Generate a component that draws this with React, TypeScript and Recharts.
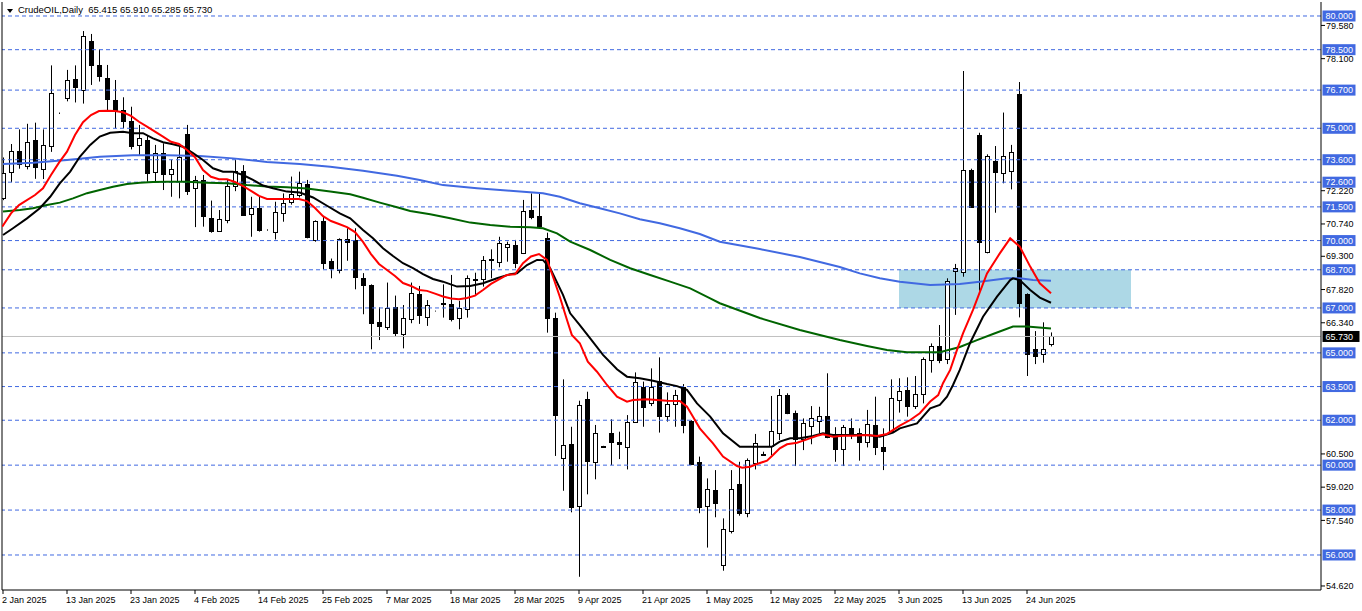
import React from 'react';
import { ComposedChart, Bar, Line, XAxis, YAxis, ReferenceLine, ReferenceArea } from 'recharts';

const FONT = '"Liberation Sans", Arial, sans-serif';

const dateTicks = [0, 8, 16, 24, 32, 40, 48, 56, 64, 72, 80, 88, 96, 104, 112, 120, 128];
const dateLabels = ['2 Jan 2025', '13 Jan 2025', '23 Jan 2025', '4 Feb 2025', '14 Feb 2025', '25 Feb 2025', '7 Mar 2025', '18 Mar 2025', '28 Mar 2025', '9 Apr 2025', '21 Apr 2025', '1 May 2025', '12 May 2025', '22 May 2025', '3 Jun 2025', '13 Jun 2025', '24 Jun 2025'];

const opens = [71.90, 73.04, 74.00, 73.30, 74.50, 73.20, 74.20, 75.66, 76.36, 77.19, 76.70, 78.90, 77.80, 77.22, 76.26, 75.80, 75.32, 74.26, 74.48, 73.07, 73.88, 72.95, 72.65, 74.73, 72.33, 72.70, 70.99, 70.44, 70.92, 72.43, 73.11, 71.17, 71.46, 70.46, 70.37, 71.21, 71.70, 72.03, 72.50, 70.03, 70.87, 69.09, 68.69, 70.07, 70.03, 68.35, 68.00, 66.37, 66.17, 67.03, 65.83, 66.49, 67.62, 66.61, 66.85, 67.18, 67.18, 66.54, 66.94, 68.25, 68.27, 69.12, 69.06, 69.73, 69.80, 69.46, 71.36, 71.09, 70.10, 66.57, 60.33, 60.94, 58.19, 62.95, 60.15, 60.82, 61.42, 61.02, 60.83, 61.91, 63.49, 62.75, 63.75, 62.20, 62.72, 63.47, 61.98, 60.15, 58.20, 58.89, 55.54, 57.08, 59.16, 57.86, 60.10, 60.47, 60.85, 61.42, 63.11, 62.31, 61.16, 61.76, 61.98, 62.19, 61.27, 60.71, 61.64, 61.45, 61.05, 61.79, 60.79, 61.52, 62.90, 63.35, 62.65, 63.16, 64.68, 65.30, 64.71, 68.65, 68.61, 73.14, 74.70, 69.49, 73.56, 73.00, 73.10, 76.53, 67.60, 65.16, 64.93, 65.415];
const highs = [73.70, 74.30, 74.95, 75.20, 75.25, 74.95, 77.80, 75.70, 77.60, 77.80, 79.33, 79.20, 78.52, 77.82, 77.15, 76.38, 75.96, 75.15, 74.70, 74.26, 74.33, 73.60, 74.18, 75.15, 72.88, 72.92, 71.78, 71.36, 72.70, 73.60, 73.36, 71.95, 71.95, 70.50, 71.73, 72.10, 72.85, 73.07, 72.70, 70.90, 71.06, 69.20, 70.10, 70.55, 70.55, 68.55, 68.05, 67.03, 68.13, 67.55, 67.13, 68.13, 67.98, 67.35, 66.88, 68.05, 68.47, 67.32, 68.45, 68.57, 69.31, 69.61, 70.17, 69.95, 70.03, 71.81, 72.10, 72.10, 70.35, 66.79, 63.82, 61.71, 62.87, 63.27, 61.79, 60.86, 62.04, 61.49, 62.23, 64.13, 63.72, 64.31, 64.80, 63.24, 63.35, 63.61, 62.00, 60.38, 59.41, 59.78, 57.63, 59.78, 60.15, 60.30, 61.39, 60.60, 63.08, 63.39, 63.20, 62.43, 62.08, 62.63, 62.60, 64.09, 61.69, 61.79, 62.08, 61.64, 62.46, 63.05, 61.64, 63.82, 63.87, 63.91, 63.97, 64.80, 65.42, 66.24, 68.32, 68.96, 77.55, 73.20, 74.80, 73.84, 74.21, 75.70, 74.26, 77.06, 67.65, 65.97, 66.36, 65.91];
const lows = [71.80, 72.60, 73.20, 73.17, 72.75, 72.74, 73.95, 75.64, 76.20, 76.15, 76.10, 76.93, 77.08, 75.81, 75.00, 75.00, 74.06, 73.80, 72.62, 72.60, 72.25, 71.95, 71.88, 72.03, 70.60, 70.62, 70.35, 70.40, 70.77, 72.20, 71.10, 70.17, 70.40, 70.44, 70.05, 70.84, 71.60, 71.92, 70.10, 69.95, 68.72, 68.32, 68.54, 69.10, 67.83, 66.72, 65.16, 65.57, 66.02, 65.72, 65.20, 66.32, 66.29, 66.20, 66.84, 66.57, 66.40, 66.05, 66.57, 67.58, 67.95, 68.32, 68.81, 69.06, 68.77, 69.40, 70.95, 70.60, 65.90, 60.41, 58.86, 57.90, 55.03, 58.70, 59.37, 60.80, 60.00, 60.27, 59.81, 61.90, 61.71, 62.63, 61.45, 61.94, 61.71, 61.42, 60.00, 57.86, 56.33, 57.68, 55.30, 56.96, 57.75, 57.68, 59.81, 60.45, 60.45, 61.12, 62.27, 59.96, 60.67, 60.93, 61.42, 61.20, 60.15, 59.96, 61.16, 60.20, 60.79, 60.45, 59.78, 61.50, 62.34, 62.16, 62.50, 62.75, 64.12, 64.54, 64.50, 66.69, 68.39, 71.45, 67.77, 69.43, 71.24, 72.55, 72.28, 66.58, 63.97, 64.50, 64.56, 65.285];
const closes = [73.00, 74.00, 73.40, 74.38, 73.28, 74.26, 76.56, 75.68, 77.14, 76.85, 79.10, 77.82, 77.31, 76.29, 75.81, 75.34, 74.23, 74.55, 73.02, 73.88, 72.95, 73.17, 73.74, 72.22, 72.70, 71.11, 70.44, 70.95, 72.43, 73.11, 71.14, 71.46, 70.47, 70.48, 71.29, 71.69, 72.06, 72.55, 70.15, 70.87, 69.00, 68.77, 70.06, 69.92, 68.39, 68.00, 66.32, 66.21, 66.98, 65.87, 66.54, 67.65, 66.70, 67.12, 66.87, 67.22, 66.50, 66.98, 68.32, 68.30, 69.14, 69.16, 69.88, 69.83, 69.00, 71.32, 71.06, 70.66, 66.54, 62.23, 60.90, 58.15, 62.68, 60.20, 61.42, 60.84, 61.02, 60.93, 61.91, 63.69, 62.60, 63.47, 62.20, 62.71, 63.12, 61.79, 60.05, 58.15, 58.92, 58.33, 57.14, 58.96, 57.88, 60.22, 60.97, 60.49, 61.52, 63.12, 62.34, 61.16, 61.86, 62.08, 62.19, 61.27, 60.72, 61.69, 61.45, 61.02, 61.82, 60.83, 60.64, 62.97, 63.30, 62.65, 63.16, 64.71, 65.31, 64.68, 68.21, 68.77, 73.14, 71.48, 69.95, 73.77, 73.04, 73.78, 73.93, 67.21, 64.93, 64.88, 65.16, 65.73];

// moving averages: [bar index, price]
const redMA = [[-0.1, 70.62], [1, 71.21], [2, 71.58], [4, 72.03], [5, 72.33], [6, 72.92], [7, 73.47], [8, 73.96], [9, 74.70], [10, 75.27], [11, 75.59], [12, 75.77], [13, 75.78], [14, 75.77], [15, 75.71], [16, 75.55], [17, 75.29], [18, 75.07], [19, 74.85], [20, 74.63], [21, 74.40], [22, 74.30], [23, 74.03], [24, 73.71], [25, 73.14], [26, 72.84], [27, 72.73], [28, 72.73], [29, 72.61], [30, 72.43], [31, 72.21], [32, 71.99], [33, 71.85], [35, 71.85], [37, 71.85], [38, 71.76], [39, 71.45], [40, 71.09], [41, 70.87], [42, 70.74], [43, 70.60], [44, 70.38], [45, 69.94], [46, 69.40], [47, 68.96], [48, 68.69], [49, 68.42], [50, 68.11], [51, 67.98], [52, 67.80], [53, 67.76], [54, 67.64], [55, 67.51], [56, 67.42], [57, 67.39], [58, 67.44], [59, 67.55], [60, 67.80], [61, 68.07], [62, 68.27], [63, 68.47], [64, 68.50], [65, 68.99], [66, 69.29], [67, 69.40], [68, 69.14], [68.75, 68.39], [69.6, 67.50], [70.5, 66.46], [71.1, 65.80], [72.1, 65.43], [73.1, 64.61], [74.25, 64.16], [75.5, 63.57], [76.75, 63.05], [78, 62.83], [78.75, 62.90], [80.5, 62.93], [81.75, 62.90], [83, 62.87], [84.6, 62.86], [85.5, 62.60], [86.25, 62.16], [87.1, 61.64], [88, 61.27], [88.75, 60.97], [90, 60.38], [91.75, 59.96], [92.4, 59.89], [93.4, 59.93], [94.25, 60.05], [95.5, 60.20], [96.25, 60.45], [97.1, 60.75], [98, 60.93], [99.25, 61.00], [100.5, 61.15], [101.75, 61.31], [102.5, 61.37], [103.75, 61.27], [105, 61.31], [106.25, 61.31], [108, 61.34], [109.25, 61.30], [110.5, 61.39], [112.1, 61.76], [113.4, 62.01], [114.6, 62.31], [115.9, 62.83], [116.9, 63.12], [117.5, 63.65], [118.4, 64.24], [119.25, 65.13], [120, 65.87], [121.25, 66.91], [123, 68.54], [124.6, 69.43], [125.9, 70.10], [127.1, 69.73], [128.4, 68.84], [129.6, 68.10], [131, 67.65]];
const blackMA = [[0, 70.25], [1.25, 70.55], [3, 70.99], [4.6, 71.44], [5.9, 71.95], [7.1, 72.55], [8.4, 73.07], [9.6, 73.73], [10.9, 74.26], [12.1, 74.63], [13.4, 74.80], [15, 74.85], [16.25, 74.78], [17.5, 74.78], [18.75, 74.55], [20, 74.38], [21.25, 74.29], [22.5, 74.18], [23.75, 73.89], [25, 73.59], [26.25, 73.22], [27.5, 73.07], [28.75, 73.07], [30, 72.92], [31.25, 72.70], [32.5, 72.45], [33.75, 72.33], [35.5, 72.18], [37.1, 72.14], [38.75, 71.92], [40.5, 71.55], [42.1, 71.21], [43.4, 70.99], [45, 70.47], [46.25, 70.10], [47.5, 69.66], [48.75, 69.31], [50, 68.99], [51.25, 68.77], [52.5, 68.51], [53.75, 68.29], [55, 68.17], [56.75, 67.95], [58.4, 67.98], [60, 68.10], [61.75, 68.32], [63.4, 68.50], [64.25, 68.54], [65.5, 68.91], [66.75, 69.14], [67.5, 69.13], [68.4, 68.77], [70, 67.58], [70.9, 66.76], [72.1, 66.24], [73.4, 65.65], [75, 64.91], [76.75, 64.27], [78, 63.94], [79.6, 63.87], [81.25, 63.76], [83, 63.61], [84.25, 63.52], [85.5, 63.35], [86.75, 62.75], [88.4, 62.16], [90, 61.42], [92.1, 60.82], [96.1, 60.82], [97.1, 61.05], [98.4, 61.20], [99.6, 61.20], [101.25, 61.30], [102.5, 61.42], [103.75, 61.34], [108, 61.34], [109.6, 61.27], [111.25, 61.45], [112.1, 61.64], [114.25, 61.86], [115.9, 62.53], [117.1, 62.68], [118, 63.05], [118.75, 63.57], [119.6, 64.24], [120.9, 65.45], [122.5, 66.61], [124.25, 67.50], [125.9, 68.24], [126.25, 68.32], [127.1, 68.24], [128.4, 67.80], [129.6, 67.46], [131, 67.23]];
const greenMA = [[0, 71.29], [2.1, 71.36], [3.75, 71.44], [5.5, 71.58], [7.1, 71.69], [8.75, 71.88], [10.5, 72.11], [12.1, 72.25], [13.75, 72.40], [15.5, 72.52], [17.1, 72.58], [18.75, 72.61], [20.5, 72.62], [23, 72.62], [25.5, 72.58], [28, 72.55], [30.5, 72.47], [33, 72.41], [35.5, 72.37], [38, 72.32], [40.9, 72.18], [43.4, 72.06], [45, 71.91], [47.1, 71.69], [49.25, 71.48], [50.9, 71.32], [53.4, 71.17], [55.9, 70.99], [58.4, 70.80], [60.9, 70.69], [63.4, 70.62], [65.9, 70.59], [67.5, 70.55], [69.25, 70.32], [70.9, 69.95], [73.4, 69.58], [75.9, 69.14], [78.4, 68.77], [80.9, 68.47], [83.4, 68.17], [85.9, 67.87], [88.4, 67.43], [89.6, 67.21], [94.6, 66.55], [99.6, 66.02], [104.6, 65.57], [108, 65.31], [110.5, 65.13], [113, 65.03], [117.1, 65.03], [119.6, 65.26], [121.75, 65.57], [123.75, 65.84], [126.25, 66.17], [128, 66.17], [131, 66.09]];
const blueMA = [[0, 73.41], [3.75, 73.47], [8, 73.59], [12.1, 73.73], [16.25, 73.80], [20.5, 73.80], [24.6, 73.77], [28.75, 73.66], [33, 73.50], [37.1, 73.41], [40.9, 73.29], [45, 73.11], [49.25, 72.89], [52.1, 72.70], [55, 72.47], [59.25, 72.33], [63.4, 72.22], [67.5, 72.11], [69.6, 71.95], [72.1, 71.66], [74.6, 71.44], [77.1, 71.21], [79.6, 70.95], [82.1, 70.77], [84.6, 70.55], [87.1, 70.29], [89.6, 69.95], [94.6, 69.62], [99.6, 69.27], [104.6, 68.82], [107.1, 68.54], [109.6, 68.32], [112.1, 68.17], [115.9, 68.02], [119.6, 68.07], [122.1, 68.17], [125.5, 68.32], [127.1, 68.32], [128.75, 68.24], [131, 68.21]];

const levels = [80, 78.5, 76.7, 75, 73.6, 72.6, 71.5, 70, 68.7, 67, 65, 63.5, 62, 60, 58, 56];
const levelLabels = ['80.000', '78.500', '76.700', '75.000', '73.600', '72.600', '71.500', '70.000', '68.700', '67.000', '65.000', '63.500', '62.000', '60.000', '58.000', '56.000'];
const axisTicks = [79.58, 78.1, 72.22, 70.74, 69.3, 67.82, 66.34, 60.5, 59.02, 57.54, 54.62];
const axisTickLabels = ['79.580', '78.100', '72.220', '70.740', '69.300', '67.820', '66.340', '60.500', '59.020', '57.540', '54.620'];
const lastPrice = 65.73;
const lastPriceLabel = '65.730';
const zoneBars = [112, 141];
const zonePrices = [67, 68.7];
const headerText = 'CrudeOIL,Daily  65.415 65.910 65.285 65.730';

const xDomain = [-0.125, 164.75];
const yDomain = [54.441, 80.623];

const candles = opens.map((o, i) => ({ i, o, h: highs[i], l: lows[i], c: closes[i], range: [lows[i], highs[i]] }));
const toPts = (arr: number[][]) => arr.map(([i, v]) => ({ i, v }));

const Candle = (props: any) => {
  const { x, y, width, height, payload } = props;
  if (x == null || y == null) return null;
  const { o, h, l, c } = payload;
  const top = Math.min(y, y + height);
  const H = Math.abs(height);
  const k = h - l > 0 ? H / (h - l) : 0;
  const cx = Math.round(x + width / 2) + 0.5;
  const yO = top + (h - o) * k;
  const yC = top + (h - c) * k;
  const bTop = Math.round(Math.min(yO, yC)) + 0.5;
  const bBot = Math.round(Math.max(yO, yC)) + 0.5;
  const up = c >= o;
  return (
    <g>
      <line x1={cx} x2={cx} y1={top} y2={top + H} stroke="#000" strokeWidth={1} />
      <rect x={cx - 2} y={bTop} width={4} height={Math.max(bBot - bTop, 0)} fill={up ? '#fff' : '#000'} stroke="#000" strokeWidth={1} />
    </g>
  );
};

const DateTick = (props: any) => {
  const { x, y, payload } = props;
  const idx = dateTicks.indexOf(payload.value);
  return (
    <text x={x - 1} y={y} dy="0.71em" textAnchor="start" fontSize={9} fontFamily={FONT} fill="#000">
      {idx >= 0 ? dateLabels[idx] : ''}
    </text>
  );
};

const PriceTick = (props: any) => {
  const { x, y, payload } = props;
  const idx = axisTicks.indexOf(payload.value);
  return (
    <text x={x} y={y} dy="0.355em" textAnchor="start" fontSize={9} fontFamily={FONT} fill="#000">
      {idx >= 0 ? axisTickLabels[idx] : ''}
    </text>
  );
};

const boxLabel = (text: string, bg: string) => (p: any) => {
  const vb = p.viewBox || {};
  const bx = vb.x + vb.width + 1.5;
  const by = vb.y;
  return (
    <g>
      <rect x={bx} y={by - 5.5} width={bg === '#000' ? 37 : 33} height={11} fill={bg} />
      <text x={bx + 3} y={by} dy="0.355em" fontSize={9} fontFamily={FONT} fill="#fff">{text}</text>
    </g>
  );
};

export default function App() {
  return (
    <div style={{ position: 'absolute', left: 0, top: 0, width: 1362, height: 611, background: '#fff' }}>
      <ComposedChart width={1362} height={611} data={candles} margin={{ top: 2, right: 0, bottom: 0, left: 2 }}>
        <XAxis dataKey="i" type="number" domain={xDomain} allowDataOverflow ticks={dateTicks} interval={0} height={21} tickSize={4} tickMargin={3} axisLine={{ stroke: '#000' }} tickLine={{ stroke: '#000' }} tick={<DateTick />} />
        <YAxis orientation="right" type="number" domain={yDomain} allowDataOverflow ticks={axisTicks} interval={0} width={41} tickSize={4} tickMargin={1} axisLine={{ stroke: '#000' }} tickLine={{ stroke: '#000' }} tick={<PriceTick />} />
        <ReferenceArea x1={zoneBars[0]} x2={zoneBars[1]} y1={zonePrices[0]} y2={zonePrices[1]} fill="#ADD8E6" fillOpacity={1} stroke="none" ifOverflow="visible" />
        {levels.map((v, k) => (
          <ReferenceLine key={'lv' + k} y={v} stroke="#4169E1" strokeDasharray="4 3" strokeWidth={1} />
        ))}
        <ReferenceLine y={lastPrice} stroke="#C0C0C0" strokeWidth={1} />
        <ReferenceLine x={xDomain[0]} stroke="#000" strokeWidth={1} />
        <Line data={toPts(blueMA)} dataKey="v" stroke="#4169E1" strokeWidth={2} dot={false} isAnimationActive={false} type="linear" />
        <Line data={toPts(greenMA)} dataKey="v" stroke="#006400" strokeWidth={2} dot={false} isAnimationActive={false} type="linear" />
        <Bar dataKey="range" barSize={7} shape={<Candle />} isAnimationActive={false} />
        <Line data={toPts(blackMA)} dataKey="v" stroke="#000" strokeWidth={2} dot={false} isAnimationActive={false} type="linear" />
        <Line data={toPts(redMA)} dataKey="v" stroke="#FF0000" strokeWidth={2} dot={false} isAnimationActive={false} type="linear" />
        {levels.map((v, k) => (
          <ReferenceLine key={'lb' + k} y={v} stroke="none" label={boxLabel(levelLabels[k], '#4169E1')} />
        ))}
        <ReferenceLine y={lastPrice} stroke="none" label={boxLabel(lastPriceLabel, '#000')} />
      </ComposedChart>
      <div style={{ position: 'absolute', left: 7, top: 9, width: 0, height: 0, borderLeft: '3px solid transparent', borderRight: '3px solid transparent', borderTop: '4px solid #000' }} />
      <div style={{ position: 'absolute', left: 18, top: 4, fontFamily: FONT, fontSize: 9.5, lineHeight: '11px', whiteSpace: 'pre', color: '#000' }}>{headerText}</div>
    </div>
  );
}
